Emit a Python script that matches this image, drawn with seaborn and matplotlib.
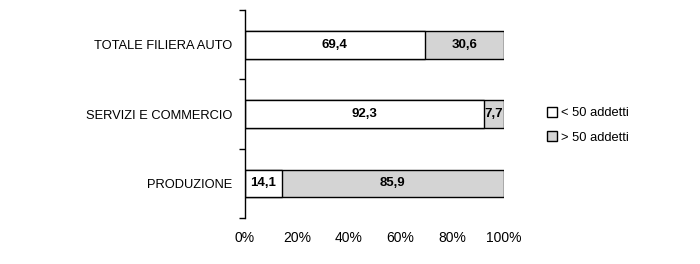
import matplotlib
matplotlib.use("Agg")
import matplotlib.pyplot as plt
import seaborn as sns
import pandas as pd
from matplotlib.lines import Line2D

categories = ["TOTALE FILIERA AUTO", "SERVIZI E COMMERCIO", "PRODUZIONE"]
small = [69.4, 92.3, 14.1]
large = [30.6, 7.7, 85.9]
series_names = ["< 50 addetti", "> 50 addetti"]
xticks = [0, 20, 40, 60, 80, 100]

sns.set_theme(style="white")
plt.rcParams["font.family"] = ["Liberation Sans", "DejaVu Sans"]
plt.rcParams["text.color"] = "black"
plt.rcParams["xtick.color"] = "black"
plt.rcParams["ytick.color"] = "black"

df = pd.DataFrame({"cat": categories, "small": small, "large": large})
df["total"] = df["small"] + df["large"]

fig = plt.figure(figsize=(7, 2.64), dpi=100)
ax = fig.add_axes([0.35, 0.174, 0.37, 0.788])

white = "#ffffff"
gray = "#d4d4d4"
sns.barplot(data=df, y="cat", x="total", orient="h", color=gray, width=0.4,
            edgecolor="black", linewidth=1, saturation=1, ax=ax)
sns.barplot(data=df, y="cat", x="small", orient="h", color=white, width=0.4,
            edgecolor="black", linewidth=1, saturation=1, ax=ax)

for i, (a, b) in enumerate(zip(small, large)):
    ax.text(a / 2, i, f"{a:.1f}".replace(".", ","), ha="center", va="center",
            fontsize=9.5, fontweight="bold", color="black")
    ax.text(a + b / 2, i, f"{b:.1f}".replace(".", ","), ha="center", va="center",
            fontsize=9.5, fontweight="bold", color="black")

ax.set_xlim(0, 100)
ax.set_ylim(2.5, -0.5)
ax.set_xticks(xticks)
ax.set_xticklabels([f"{t}%" for t in xticks], fontsize=10)
ax.set_yticks(range(len(categories)))
ax.set_yticklabels(categories, fontsize=9.3)
ax.set_yticks([-0.5, 0.5, 1.5, 2.5], minor=True)
ax.tick_params(axis="y", which="major", length=0, pad=9)
ax.tick_params(axis="y", which="minor", length=4, width=1, color="black", direction="out", left=True)
ax.tick_params(axis="x", length=0, pad=9)
ax.set_xlabel("")
ax.set_ylabel("")
for s in ["top", "right", "bottom"]:
    ax.spines[s].set_visible(False)
ax.spines["left"].set_color("black")
ax.spines["left"].set_linewidth(1)

handles = [Line2D([], [], marker="s", linestyle="none", markersize=7,
                  markerfacecolor=c, markeredgecolor="black", markeredgewidth=1)
           for c in (white, gray)]
fig.legend(handles, series_names, loc="center left", bbox_to_anchor=(0.763, 0.525),
           frameon=False, fontsize=9.3, handletextpad=0.15, labelspacing=0.95,
           handlelength=1.0)

fig.savefig("out.png", dpi=100)
